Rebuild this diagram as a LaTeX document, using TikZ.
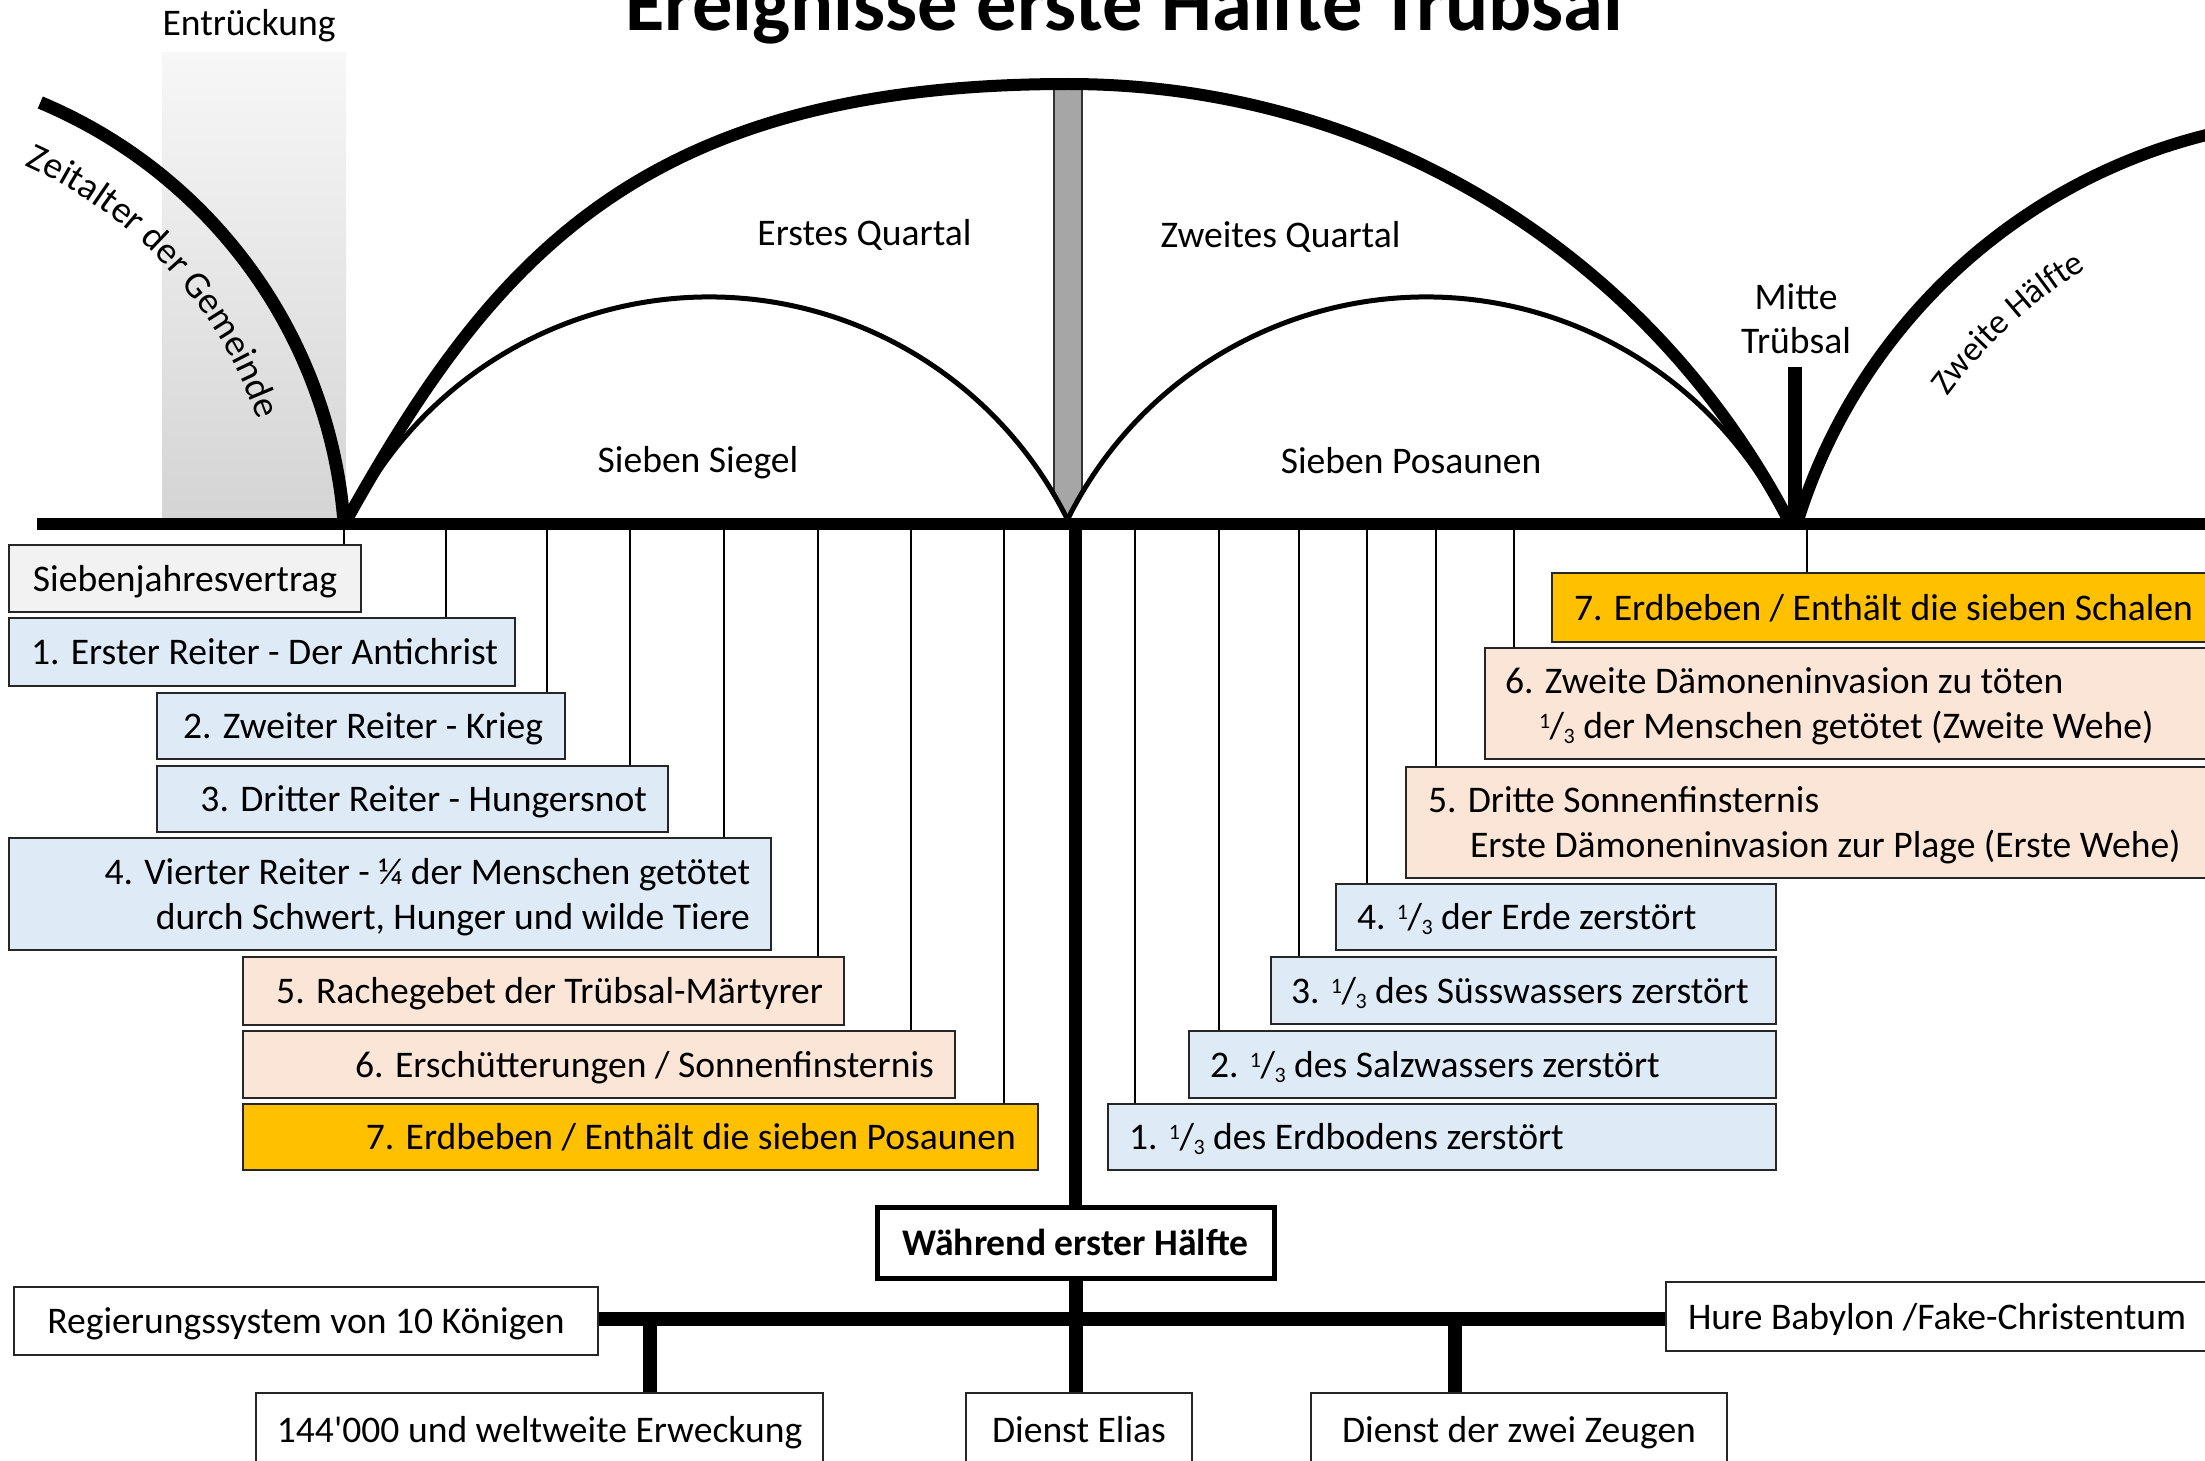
\documentclass[tikz,border=0pt]{standalone}
\usepackage{fontspec}
\setmainfont{Carlito}
\usetikzlibrary{decorations.text,calc}

\definecolor{bluefill}{HTML}{DEEBF7}
\definecolor{peach}{HTML}{FBE5D6}
\definecolor{orng}{HTML}{FFC000}
\definecolor{lgray}{HTML}{F2F2F2}
\definecolor{bargray}{HTML}{A6A6A6}
\definecolor{bdr}{HTML}{262626}
\definecolor{gradtop}{HTML}{F7F7F7}
\definecolor{gradbot}{HTML}{D4D4D4}

\newcommand{\fsz}{\fontsize{37.6}{45}\selectfont}
\newcommand{\third}{\raisebox{10pt}{\fontsize{22}{22}\selectfont 1}\kern-0.5pt/\kern-0.5pt\raisebox{-5pt}{\fontsize{22}{22}\selectfont 3}}
\newcommand{\boxl}[2]{\makebox[#1][l]{#2}}
\newcommand{\boxr}[2]{\makebox[#1][r]{#2}}
\newcommand{\twol}[3]{\parbox[t]{#1}{\makebox[#1][l]{#2}\\\makebox[#1][l]{#3}}}
\newcommand{\twor}[3]{\parbox[t]{#1}{\makebox[#1][r]{#2}\\\makebox[#1][r]{#3}}}

\tikzset{
  box/.style={rectangle, draw=bdr, line width=2.5pt, inner sep=0pt, font=\fsz, text height=25pt, text depth=0pt},
  twoline/.style={text depth=45pt},
  tick/.style={draw=black, line width=2.5pt},
  conn/.style={draw=black, line width=14pt},
  lbl/.style={font=\fsz, inner sep=0pt, anchor=base},
  archline/.style={draw=black, line width=12pt},
  thinarc/.style={draw=black, line width=5pt, fill=white},
}

\begin{document}
\begin{tikzpicture}[x=1pt,y=-1pt]
\useasboundingbox (0,0) rectangle (2205,1461);
\clip (0,0) rectangle (2205,1461);
\fill[white] (0,0) rectangle (2205,1461);

% gradient column (Entrueckung)
\shade[top color=gradtop, bottom color=gradbot] (162,53) rectangle (346,520);

% middle gray bar
\filldraw[fill=bargray, draw=black!80, line width=2pt] (1054,89) rectangle (1082,523);

% thin inner arcs
\filldraw[thinarc] ($(709,697)+(154.2:400pt)$) arc[start angle=154.2, end angle=25.8, radius=400pt] -- cycle;
\filldraw[thinarc] ($(1426,697)+(154.2:400pt)$) arc[start angle=154.2, end angle=25.8, radius=400pt] -- cycle;

% main thick arch
\draw[archline] (345,523) .. controls (491,261) and (638,84) .. (1068,84)
                .. controls (1379,84) and (1652,257) .. (1790,523);
% right arch (second half)
\draw[archline] ($(2345,691)+(163:573pt)$) arc[start angle=163, end angle=95, radius=573pt];
% left arc (age of the church)
\draw[draw=black, line width=13pt] ($(-151.5,561)+(67.3:497pt)$) arc[start angle=67.3, end angle=4.8, radius=497pt];

% baseline
\coordinate (bl) at (37,524);
\coordinate (br) at (2215,524);
\draw[draw=black, line width=12pt] (bl) -- (br);

% Mitte bar
\coordinate (mtop) at (1794.5,367);
\draw[draw=black, line width=14pt] (mtop) -- (mtop |- bl);

% curved labels
\path[decorate, decoration={text along path, text={|\fsz|Zeitalter der Gemeinde}}]
  ($(-151.5,561)+(66:433pt)$) arc[start angle=66, end angle=8, radius=433pt];
\path[decorate, decoration={text along path, text={|\fontsize{35}{42}\selectfont|Zweite Hälfte}}]
  ($(2345,691)+(143.5:495pt)$) arc[start angle=143.5, end angle=100, radius=495pt];

% texts
\node[font=\bfseries\fontsize{80.5}{92}\selectfont, inner sep=0pt, anchor=base] (title) at (1124,31) {Ereignisse erste Hälfte Trübsal};
\node[lbl] (entr) at (249,36) {Entrückung};
\node[lbl] (eq) at (864.5,245) {Erstes Quartal};
\node[lbl] (zq) at (1280.5,247) {Zweites Quartal};
\node[lbl] (ss) at (698,472) {Sieben Siegel};
\node[lbl] (sp) at (1411,473) {Sieben Posaunen};
\node[lbl] (mt1) at (1796,309) {Mitte};
\node[lbl] (mt2) at (1796,353) {Trübsal};

% left boxes
\node[box, fill=lgray, minimum width=352pt, minimum height=67pt] (sj) at (185,578.5) {Siebenjahresvertrag};
\node[box, fill=bluefill, minimum width=506pt, minimum height=68pt] (b1) at (262,652) {\boxl{462pt}{1. Erster Reiter - Der Antichrist}};
\node[box, fill=bluefill, minimum width=408pt, minimum height=66pt] (b2) at (361,726) {\boxr{364pt}{2. Zweiter Reiter - Krieg}};
\node[box, fill=bluefill, minimum width=511pt, minimum height=66pt] (b3) at (412.5,799) {\boxr{469pt}{3. Dritter Reiter - Hungersnot}};
\node[box, twoline, fill=bluefill, minimum width=762pt, minimum height=112pt] (b4) at (390,894) {\twor{720pt}{4. Vierter Reiter - ¼ der Menschen getötet}{durch Schwert, Hunger und wilde Tiere}};
\node[box, fill=peach, minimum width=601pt, minimum height=68pt] (b5) at (543.5,991) {\boxr{559pt}{5. Rachegebet der Trübsal-Märtyrer}};
\node[box, fill=peach, minimum width=712pt, minimum height=67pt] (b6) at (599,1064.5) {\boxr{670pt}{6. Erschütterungen / Sonnenfinsternis}};
\node[box, fill=orng, minimum width=795pt, minimum height=66pt] (b7) at (640.5,1137) {\boxr{751pt}{7. Erdbeben / Enthält die sieben Posaunen}};

% right boxes
\node[box, fill=orng, minimum width=663pt, minimum height=69pt] (r7) at (1883.5,607.5) {\boxl{619pt}{7. Erdbeben / Enthält die sieben Schalen}};
\node[box, twoline, fill=peach, minimum width=730pt, minimum height=111pt] (r6) at (1850,703.5) {\twol{690pt}{6. Zweite Dämoneninvasion zu töten}{\hspace*{34pt}\third{} der Menschen getötet (Zweite Wehe)}};
\node[box, twoline, fill=peach, minimum width=809pt, minimum height=111pt] (r5) at (1810.5,822.5) {\twol{765pt}{5. Dritte Sonnenfinsternis}{\hspace*{42pt}Erste Dämoneninvasion zur Plage (Erste Wehe)}};
\node[box, fill=bluefill, minimum width=440pt, minimum height=66pt] (r4) at (1556,917) {\boxl{398pt}{4. \third{} der Erde zerstört}};
\node[box, fill=bluefill, minimum width=505pt, minimum height=67pt] (r3) at (1523.5,990.5) {\boxl{465pt}{3. \third{} des Süsswassers zerstört}};
\node[box, fill=bluefill, minimum width=587pt, minimum height=67pt] (r2) at (1482.5,1064.5) {\boxl{545pt}{2. \third{} des Salzwassers zerstört}};
\node[box, fill=bluefill, minimum width=668pt, minimum height=66pt] (r1) at (1442,1137) {\boxl{626pt}{1. \third{} des Erdbodens zerstört}};

% ticks from the time line to the boxes
\foreach \x/\n in {344/sj, 446/b1, 547/b2, 630/b3, 724/b4, 818/b5, 911/b6, 1004/b7,
                   1135/r1, 1219/r2, 1299/r3, 1367/r4, 1436/r5, 1514/r6, 1807/r7} {
  \coordinate (t\n) at (\x,524);
  \draw[tick] (t\n) -- (t\n |- \n.north);
}

% bottom part
\node[box, draw=black, line width=5pt, fill=white, font=\fsz\bfseries, minimum width=397pt, minimum height=71pt] (wh) at (1075.5,1242.5) {Während erster Hälfte};
\node[box, fill=white, minimum width=584pt, minimum height=68pt] (rg) at (306,1321) {Regierungssystem von 10 Königen};
\node[box, fill=white, minimum width=549pt, minimum height=69pt] (hb) at (1940.5,1316.5) {\boxl{505pt}{Hure Babylon /Fake-Christentum}};
\node[box, fill=white, minimum width=567pt, minimum height=73pt] (k144) at (539.5,1429.5) {144\textquotesingle 000 und weltweite Erweckung};
\node[box, fill=white, minimum width=226pt, minimum height=73pt] (el) at (1079,1429.5) {Dienst Elias};
\node[box, fill=white, minimum width=416pt, minimum height=73pt] (zz) at (1519,1429.5) {Dienst der zwei Zeugen};

\coordinate (c0) at (1075.5,524);
\draw[conn, line width=13pt] (c0) -- (wh.north);
\coordinate (hl) at (1077,1319);
\draw[conn] (rg.east |- hl) -- (hb.west |- hl);
\coordinate (j1) at (650,1319);
\draw[conn] (j1) -- (j1 |- k144.north);
\coordinate (j3) at (1455,1319);
\draw[conn] (j3) -- (j3 |- zz.north);
\draw[conn] (wh.south) -- (wh.south |- el.north);
\end{tikzpicture}
\end{document}
